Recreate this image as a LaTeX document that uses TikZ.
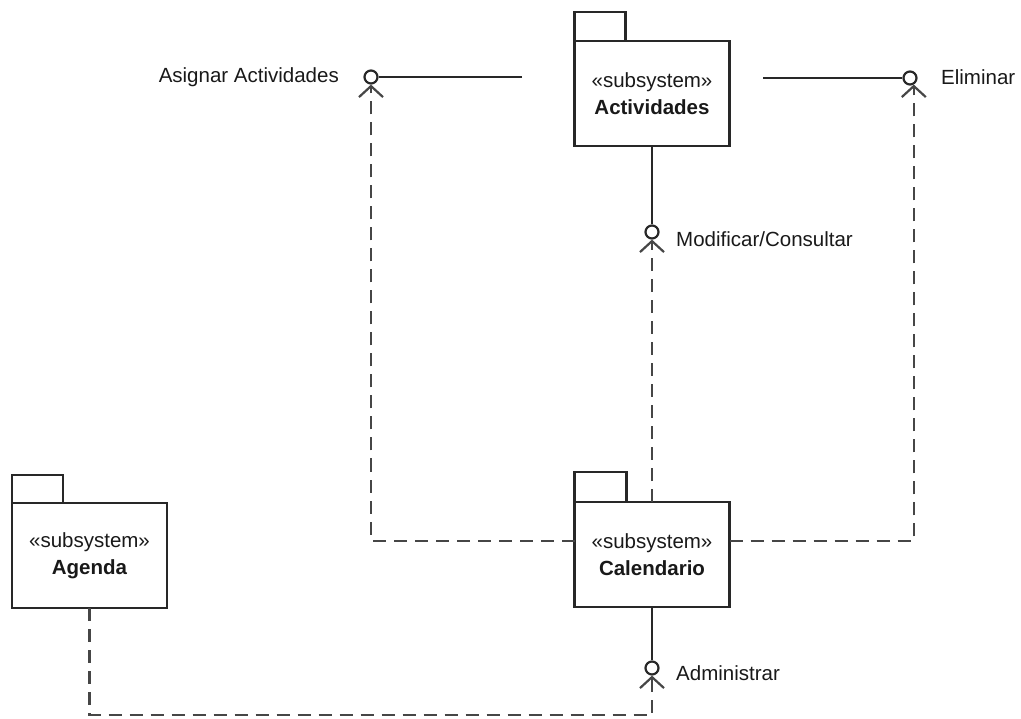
\documentclass[tikz,border=0pt]{standalone}
\usepackage{fontspec}
\setmainfont{Liberation Sans}
\usetikzlibrary{arrows.meta}
\definecolor{ink}{RGB}{40,40,40}
\definecolor{dashink}{RGB}{70,70,70}
\definecolor{inktext}{RGB}{25,25,25}
\begin{document}
\begin{tikzpicture}[x=1pt,y=-1pt,
  font=\fontsize{20.5}{27}\selectfont,
  pkg/.style={draw=ink,line width=2.2pt,minimum width=155pt,minimum height=105pt,
    inner sep=0pt,outer sep=0pt,align=center,text=inktext,anchor=north west},
  tab/.style={draw=ink,line width=2.2pt},
  iface/.style={circle,draw=ink,line width=2.2pt,minimum size=13pt,inner sep=0pt},
  provided/.style={draw=ink,line width=2.2pt},
  required/.style={draw=dashink,line width=2.5pt,dash pattern=on 13pt off 8pt,
    -{Straight Barb[length=11pt,width=24pt,line width=2.2pt]}},
  lbl/.style={text=inktext,inner sep=0pt}]
\useasboundingbox (0,0) rectangle (1021,719);

% subsystem packages
\node[pkg] (act) at (574.5,41) {«subsystem»\\\textbf{Actividades}};
\node[pkg] (cal) at (574.5,502) {«subsystem»\\\textbf{Calendario}};
\node[pkg] (age) at (12,503)  {«subsystem»\\\textbf{Agenda}};
\draw[tab] (act.north west) rectangle ++(51,-29);
\draw[tab] (cal.north west) rectangle ++(52,-30);
\draw[tab] (age.north west) rectangle ++(51,-28);

% provided interfaces (lollipops)
\node[iface] (asig) at (371,77)  {};
\node[iface] (elim) at (910,78)  {};
\node[iface] (modi) at (act.south |- 0,232) {};
\node[iface] (admi) at (cal.south |- 0,668) {};
\coordinate (asigEnd) at (522,77);
\coordinate (elimEnd) at (763,78);

\draw[provided] (asigEnd) -- (asig);
\draw[provided] (elimEnd) -- (elim);
\draw[provided] (act.south) -- (modi);
\draw[provided] (cal.south) -- (admi);

% required interfaces (dependencies)
\draw[required] ([yshift=-39pt]cal.north west) -| (asig.south);
\draw[required] ([yshift=-39pt]cal.north east) -| (elim.-60);
\draw[required] (cal.north) -- (modi.south);
\draw[required] (age.south) -- ++(0,107) -| (admi.south);

% interface names
\node[lbl,anchor=base east] (asigL) at (339,83) {Asignar Actividades};
\node[lbl,anchor=base west] (elimL) at (941,85) {Eliminar};
\node[lbl,anchor=base west] (modiL) at (676,247) {Modificar/Consultar};
\node[lbl,anchor=base west] (admiL) at (676,680) {Administrar};
\end{tikzpicture}
\end{document}
